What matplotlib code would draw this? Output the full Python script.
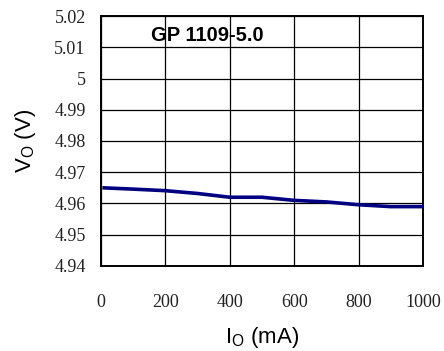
import matplotlib
matplotlib.use("Agg")
import matplotlib.pyplot as plt

current_mA = [10, 100, 200, 300, 400, 500, 600, 700, 800, 900, 1000]
vout_V = [4.9650, 4.9646, 4.9641, 4.9632, 4.9620, 4.9620, 4.9610, 4.9605, 4.9596, 4.9590, 4.9590]
x_ticks = [0, 200, 400, 600, 800, 1000]
y_ticks = [4.94, 4.95, 4.96, 4.97, 4.98, 4.99, 5.00, 5.01, 5.02]
y_tick_labels = ["4.94", "4.95", "4.96", "4.97", "4.98", "4.99", "5", "5.01", "5.02"]
title = "GP 1109-5.0"

plt.rcParams['mathtext.fontset'] = 'custom'
plt.rcParams['mathtext.rm'] = 'Liberation Sans'
plt.rcParams['mathtext.it'] = 'Liberation Sans'

fig = plt.figure(figsize=(4.44, 3.51), dpi=100)
ax = fig.add_axes([0.2275, 0.2422, 0.725, 0.7122])

ax.plot(current_mA, vout_V, color="#000080", lw=2.6, zorder=3)
ax.set_xlim(0, 1000)
ax.set_ylim(4.94, 5.02)
ax.set_xticks(x_ticks)
ax.set_yticks(y_ticks)
ax.set_yticklabels(y_tick_labels)
ax.grid(True, color="black", lw=0.9)
for s in ax.spines.values():
    s.set_color("black")
    s.set_linewidth(1.4)
ax.tick_params(length=0)
ax.tick_params(axis='y', pad=11)
ax.tick_params(axis='x', pad=20)
for lab in ax.get_xticklabels() + ax.get_yticklabels():
    lab.set_fontfamily("Liberation Serif")
    lab.set_fontsize(13)
    lab.set_color("#222222")

ax.set_xlabel("I$_\\mathrm{O}$ (mA)", fontfamily="Liberation Sans", fontsize=16, labelpad=10)
ax.set_ylabel("V$_\\mathrm{O}$ (V)", fontfamily="Liberation Sans", fontsize=16, labelpad=12)
ax.text(0.33, 0.922, title, transform=ax.transAxes, ha="center", va="center",
        fontfamily="Liberation Sans", fontweight="bold", fontsize=14.5)

fig.savefig("out.png", dpi=100)
